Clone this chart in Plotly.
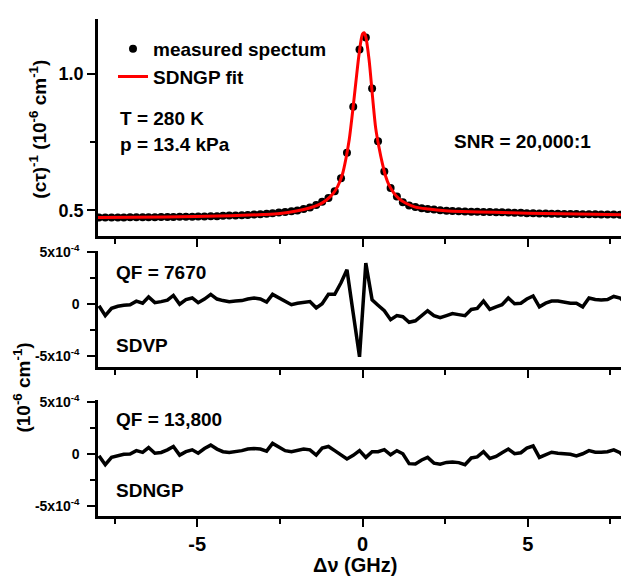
import plotly.graph_objects as go

# ---------------- data ----------------
X = [-7.97, -7.78, -7.59, -7.40, -7.22, -7.03, -6.84, -6.65, -6.47, -6.28,
     -6.09, -5.90, -5.72, -5.53, -5.34, -5.15, -4.97, -4.78, -4.59, -4.40,
     -4.22, -4.03, -3.84, -3.65, -3.47, -3.28, -3.09, -2.90, -2.72, -2.53,
     -2.34, -2.15, -1.97, -1.78, -1.59, -1.40, -1.22, -1.03, -0.84, -0.65,
     -0.47, -0.28, -0.09, 0.10, 0.29, 0.47, 0.66, 0.85, 1.04, 1.22,
     1.41, 1.60, 1.79, 1.97, 2.16, 2.35, 2.54, 2.72, 2.91, 3.10,
     3.29, 3.47, 3.66, 3.85, 4.04, 4.22, 4.41, 4.60, 4.79, 4.97,
     5.16, 5.35, 5.54, 5.72, 5.91, 6.10, 6.29, 6.47, 6.66, 6.85,
     7.04, 7.22, 7.41, 7.60, 7.79, 7.97]

MEASURED = [0.474, 0.474, 0.474, 0.474, 0.474, 0.475, 0.475, 0.475, 0.475, 0.475,
            0.476, 0.476, 0.476, 0.477, 0.477, 0.477, 0.478, 0.478, 0.479, 0.479,
            0.480, 0.481, 0.481, 0.482, 0.483, 0.485, 0.486, 0.488, 0.490, 0.492,
            0.494, 0.497, 0.500, 0.505, 0.511, 0.520, 0.532, 0.545, 0.570, 0.618,
            0.711, 0.879, 1.088, 1.132, 0.946, 0.753, 0.642, 0.582, 0.551, 0.530,
            0.518, 0.512, 0.508, 0.505, 0.503, 0.501, 0.499, 0.498, 0.497, 0.496,
            0.495, 0.495, 0.494, 0.494, 0.493, 0.493, 0.492, 0.491, 0.491, 0.490,
            0.490, 0.489, 0.489, 0.488, 0.488, 0.487, 0.487, 0.487, 0.486, 0.486,
            0.486, 0.485, 0.485, 0.485, 0.484, 0.484]

FIT_X = [-8.0, -6.0, -4.0, -3.0, -2.5, -2.0, -1.6, -1.3, -1.1, -0.9,
         -0.75, -0.6, -0.5, -0.4, -0.3, -0.2, -0.1, 0.0, 0.05, 0.1,
         0.2, 0.3, 0.4, 0.5, 0.6, 0.7, 0.8, 0.95, 1.1, 1.3,
         1.6, 2.0, 2.5, 3.0, 4.0, 5.0, 6.0, 7.0, 8.0]
FIT_Y = [0.474, 0.476, 0.480, 0.485, 0.489, 0.498, 0.509, 0.522, 0.537, 0.560,
         0.588, 0.635, 0.690, 0.760, 0.860, 0.970, 1.075, 1.145, 1.150, 1.135,
         1.050, 0.920, 0.800, 0.730, 0.672, 0.625, 0.593, 0.563, 0.543, 0.527,
         0.512, 0.505, 0.499, 0.496, 0.493, 0.490, 0.488, 0.486, 0.484]

# residuals in units of 1e-4 (10^-6 cm^-1)
RES_SDVP = [-0.15, -1.1, -0.4, -0.2, -0.1, -0.05, 0.3, 0.1, 0.7, 0.15,
            0.25, 0.4, 0.85, 0.0, 0.45, 0.6, 0.15, 0.5, 0.95, 0.5,
            0.35, 0.25, 0.3, 0.35, 0.5, 0.6, 0.5, 0.2, 0.95, 0.6,
            0.3, -0.05, 0.1, 0.15, 0.25, -0.35, 0.05, 0.95, 0.95, 2.07,
            3.33, -0.9, -5.07, 3.97, 0.42, -0.1, -0.63, -1.49, -1.1, -1.2,
            -1.74, -1.6, -1.1, -0.63, -1.1, -1.3, -1.1, -0.9, -1.0, -1.1,
            -0.5, -0.4, 0.3, -0.5, -0.25, -0.05, 0.6, 0.05, 0.1, 0.5,
            0.8, -0.25, 0.1, 0.3, 0.3, 0.2, 0.1, 0.1, -0.25, 0.6,
            0.45, 0.4, 0.45, 0.75, 0.6, 0.1]

RES_SDNGP = [-0.2, -1.05, -0.35, -0.2, -0.05, -0.03, 0.3, 0.13, 0.6, 0.05,
             0.13, 0.38, 0.7, -0.13, 0.2, 0.38, 0.05, 0.5, 0.83, 0.45,
             0.2, 0.13, 0.2, 0.3, 0.45, 0.5, 0.45, 0.25, 1.0, 0.6,
             0.3, 0.2, 0.3, 0.45, 0.38, -0.13, 0.55, 0.7, 0.3, -0.13,
             -0.5, -0.15, 0.3, -0.35, 0.2, 0.2, 0.4, -0.1, 0.3, 0.0,
             -0.95, -0.98, -0.6, -0.35, -0.9, -1.0, -0.83, -0.78, -0.85, -1.05,
             -0.4, -0.3, 0.2, -0.45, -0.25, 0.1, 0.45, 0.0, 0.1, 0.55,
             0.75, -0.35, -0.1, 0.15, 0.05, 0.0, -0.05, -0.2, 0.0, 0.3,
             0.15, 0.15, 0.2, 0.38, 0.1, -0.5]

RES_SCALE = 1e-4
X_TICKS = [-5, 0, 5]
X_TICK_TEXT = ["-5", "0", "5"]
RES_TICKS = [-5e-4, 0, 5e-4]
RES_TICK_TEXT = ["-5x10<sup>-4</sup>", "0", "5x10<sup>-4</sup>"]

# ---------------- figure ----------------
# page body has an 8px margin: the figure is drawn 8px right / 8px down
OFF = 8
W, H = 629 - OFF, 579 - OFF
ML, MR, MT, MB = 98 - OFF, 2, 13 - OFF, 579 - 516
PW, PH = W - ML - MR, H - MT - MB


def px(xp):
    """reference-picture x pixel -> paper fraction"""
    return (xp - OFF - ML) / PW


def py(yp):
    """reference-picture y pixel -> paper fraction"""
    return (H - MB - (yp - OFF)) / PH


fig = go.Figure()
fig.add_trace(go.Scatter(x=X, y=MEASURED, mode="markers", name="measured spectum",
                         marker=dict(color="black", size=8), xaxis="x", yaxis="y"))
fig.add_trace(go.Scatter(x=FIT_X, y=FIT_Y, mode="lines", name="SDNGP fit",
                         line=dict(color="#ff0000", width=3, shape="spline", smoothing=0.8),
                         xaxis="x", yaxis="y"))
fig.add_trace(go.Scatter(x=X, y=[v * RES_SCALE for v in RES_SDVP], mode="lines",
                         line=dict(color="black", width=3.5), showlegend=False,
                         xaxis="x2", yaxis="y2"))
fig.add_trace(go.Scatter(x=X, y=[v * RES_SCALE for v in RES_SDNGP], mode="lines",
                         line=dict(color="black", width=3.5), showlegend=False,
                         xaxis="x3", yaxis="y3"))

ax = dict(showline=True, linecolor="black", linewidth=2.5, ticks="outside",
          tickcolor="black", tickwidth=2, ticklen=8, showgrid=False, zeroline=False,
          mirror=False)
xcommon = dict(ax, range=[-8, 8], tickvals=X_TICKS, ticktext=X_TICK_TEXT,
               minor=dict(ticks="outside", dtick=2.5, tick0=0, ticklen=5,
                          tickwidth=2, tickcolor="black", showgrid=False))

fig.update_layout(
    width=W, height=H,
    margin=dict(l=ML, r=MR, t=MT, b=MB),
    paper_bgcolor="white", plot_bgcolor="white",
    font=dict(family="Liberation Sans, Arial, sans-serif", color="black", size=16,
              weight="bold"),
    xaxis=dict(xcommon, domain=[0, 1], anchor="y", showticklabels=False),
    xaxis2=dict(xcommon, domain=[0, 1], anchor="y2", showticklabels=False, matches="x"),
    xaxis3=dict(xcommon, domain=[0, 1], anchor="y3", showticklabels=True, matches="x",
                tickfont=dict(size=20, weight="bold")),
    yaxis=dict(ax, domain=[py(233), 1], anchor="x", range=[0.405, 1.2],
               tickvals=[0.5, 1.0], ticktext=["0.5", "1.0"],
               tickfont=dict(size=18, weight="bold"),
               minor=dict(ticks="outside", tickvals=[0.75], ticklen=5, tickwidth=2,
                          tickcolor="black", showgrid=False)),
    yaxis2=dict(ax, domain=[py(365), py(248)], anchor="x2", range=[-6.03e-4, 5.11e-4],
                tickvals=RES_TICKS, ticktext=RES_TICK_TEXT, ticklabelstandoff=5,
                tickfont=dict(size=14, weight="bold"),
                minor=dict(ticks="outside", tickvals=[-2.5e-4, 2.5e-4], ticklen=5,
                           tickwidth=2, tickcolor="black", showgrid=False)),
    yaxis3=dict(ax, domain=[0, py(399)], anchor="x3", range=[-5.98e-4, 5.13e-4],
                tickvals=RES_TICKS, ticktext=RES_TICK_TEXT, ticklabelstandoff=5,
                tickfont=dict(size=14, weight="bold"),
                minor=dict(ticks="outside", tickvals=[-2.5e-4, 2.5e-4], ticklen=5,
                           tickwidth=2, tickcolor="black", showgrid=False)),
    legend=dict(x=px(113), y=py(24), xanchor="left", yanchor="top",
                bgcolor="rgba(0,0,0,0)", font=dict(size=19, weight="bold"),
                itemwidth=30, tracegroupgap=0),
    showlegend=True,
)


def note(text, x, y, size=19, xanchor="left", angle=0):
    fig.add_annotation(text=text, xref="paper", yref="paper", x=px(x), y=py(y),
                       xanchor=xanchor, yanchor="middle", showarrow=False,
                       textangle=angle, font=dict(size=size, weight="bold"))


note("T = 280 K", 118, 114)
note("p = 13.4 kPa", 118, 140)
note("SNR = 20,000:1", 452, 137)
note("QF = 7670", 114, 270)
note("SDVP", 114, 343)
note("QF = 13,800", 114, 418)
note("SDNGP", 114, 490)
note("Δν (GHz)", 355, 566, size=20, xanchor="center")
note("(cτ)<sup>-1</sup> (10<sup>-6</sup> cm<sup>-1</sup>)", 38, 125, size=19,
     xanchor="center", angle=-90)
note("(10<sup>-6</sup> cm<sup>-1</sup>)", 22, 386, size=19, xanchor="center", angle=-90)

fig.write_html("out.html")
